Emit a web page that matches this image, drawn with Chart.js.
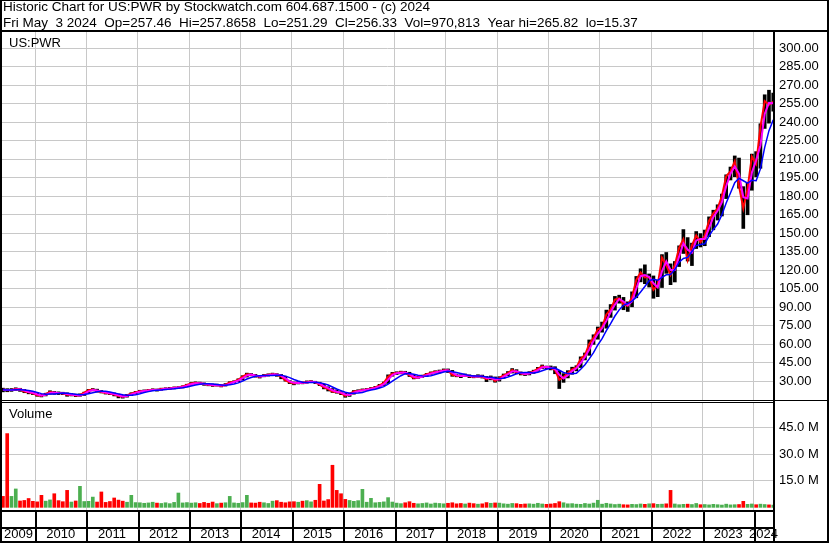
<!DOCTYPE html>
<html>
<head>
<meta charset="UTF-8">
<script src="https://cdn.jsdelivr.net/npm/chart.js@4.4.1/dist/chart.umd.min.js"></script>
<style>
body{margin:0;background:#fff;}
#wrap{position:relative;width:830px;height:543px;}
#price{position:absolute;left:0;top:0;}
#vol{position:absolute;left:0;top:403px;}
</style>
</head>
<body>
<div id="wrap">
<canvas id="price" width="830" height="403"></canvas>
<canvas id="vol" width="830" height="140"></canvas>
</div>

<script>
// monthly bars, May 2009 .. May 2024
var startYear = 2009, startMonth = 5;

var closes = [
	23.0,22.5,22.8,23.5,23.0,21.5,20.8,20.0,
	18.5,18.0,19.5,21.0,20.5,20.2,20.0,18.8,19.0,18.2,18.5,20.5,
	22.5,23.0,21.8,21.0,20.2,19.8,19.0,17.8,17.2,18.5,19.8,20.9,
	21.8,22.0,22.5,23.0,22.8,23.5,23.8,24.0,24.5,24.8,25.5,26.8,
	28.0,28.5,28.0,27.5,27.0,26.5,26.8,26.0,27.0,28.8,29.5,31.0,
	33.5,35.5,35.0,34.0,33.5,34.5,35.0,35.5,35.0,33.8,30.5,29.0,
	28.0,28.8,28.5,29.2,29.5,28.9,27.0,24.8,23.5,21.5,21.0,20.2,
	18.0,19.5,21.5,22.0,22.8,23.2,24.0,24.8,26.5,28.5,33.5,36.0,
	36.5,37.0,36.8,34.5,32.5,33.0,34.0,35.5,36.5,37.5,37.8,38.8,
	38.5,35.0,34.3,34.0,34.8,33.8,33.5,34.0,33.5,31.5,33.0,30.0,
	32.5,34.5,36.5,39.0,37.0,36.0,35.5,36.5,37.8,40.0,42.0,41.0,
	40.5,39.0,31.0,33.0,36.5,39.5,41.0,48.0,51.0,60.0,65.0,72.0,
	73.5,84.0,88.0,96.0,97.0,92.0,91.0,98.0,112.0,118.0,114.0,114.5,
	104.0,108.0,130.0,124.0,116.0,124.0,138.0,145.0,128.0,140.0,148.0,142.5,
	148.0,160.0,166.0,170.0,180.0,196.0,200.0,208.0,188.0,170.0,186.0,212.0,
	206.0,236.0,257.0,254.0,256.3
];
var highs = [
	24.2,23.8,23.9,24.5,24.1,23.2,21.9,21.3,
	20.4,19.2,20.1,22.1,21.6,21.2,20.9,20.4,19.9,19.4,19.6,21.0,
	23.2,23.9,23.4,22.3,21.4,20.6,20.3,19.4,18.5,19.2,20.5,21.6,
	22.5,22.8,23.2,23.7,23.5,24.2,24.5,24.8,25.2,25.4,26.1,27.4,
	28.8,29.3,29.1,28.5,27.9,27.6,27.5,27.1,27.9,29.4,30.2,31.8,
	34.3,36.4,36.1,35.4,34.6,35.3,35.8,36.4,36.0,35.3,33.9,30.3,
	29.2,29.5,29.3,30.1,30.3,29.8,29.0,27.4,25.3,23.9,22.8,21.4,
	20.3,20.2,22.3,22.9,23.6,23.9,24.7,25.6,27.3,29.2,35.0,37.0,
	37.5,38.0,37.9,37.1,34.8,33.9,34.8,36.2,37.4,38.3,38.9,39.8,
	39.8,38.6,35.6,35.1,35.7,35.0,34.6,35.1,34.8,33.7,34.1,33.3,
	33.5,35.7,37.7,40.1,39.2,37.4,36.7,37.6,38.8,41.1,43.0,42.1,
	42.2,41.6,38.5,36.0,38.4,41.2,42.4,49.6,52.7,63.3,67.5,73.8,
	77.8,87.5,92.0,98.6,99.6,97.8,94.2,102.3,114.8,121.0,124.2,116.8,
	115.2,111.8,132.5,134.2,125.0,126.9,139.6,152.8,146.3,141.8,151.2,149.5,
	152.4,163.1,168.5,172.9,181.6,197.2,203.5,212.5,210.8,187.6,191.0,214.0,
	216.0,238.6,262.1,265.8,263.4
];
var lows = [
	21.2,21.3,21.6,22.3,21.6,20.5,19.6,19.0,
	17.6,17.1,17.9,19.3,19.2,19.0,18.9,17.6,17.9,17.3,17.6,18.3,
	20.4,22.0,21.0,20.3,19.4,18.9,17.9,16.3,16.1,16.9,18.2,19.6,
	20.7,21.2,21.7,22.2,21.8,22.5,22.9,23.2,23.6,23.9,24.4,25.3,
	26.6,27.5,27.2,26.5,26.1,25.6,25.9,25.2,25.9,27.0,28.6,29.4,
	30.8,33.2,34.2,33.1,32.4,33.4,34.0,34.5,33.8,31.8,29.9,27.9,
	26.9,27.6,27.7,28.2,28.7,27.9,26.2,23.6,21.9,20.7,20.1,18.9,
	16.8,17.5,19.3,21.2,21.9,22.1,23.1,23.9,24.6,26.3,28.0,33.9,
	35.2,35.8,35.6,33.6,31.7,32.1,32.9,33.6,35.4,36.4,36.5,37.6,
	36.9,33.8,33.4,32.7,33.8,32.7,32.6,33.0,32.4,29.5,30.9,29.0,
	29.9,32.2,34.3,36.5,35.8,34.9,34.4,34.9,36.2,37.9,40.1,39.9,
	39.0,35.9,23.9,28.9,32.5,35.5,38.2,40.9,47.1,50.8,59.7,63.9,
	69.6,72.8,81.6,87.5,93.1,87.8,86.4,90.2,97.5,110.4,108.9,106.2,
	97.1,98.4,105.8,117.3,108.1,110.3,122.8,133.4,127.3,123.6,137.4,138.7,
	139.7,147.0,152.6,160.5,163.8,177.9,193.0,195.7,186.3,153.7,164.8,184.7,
	195.6,202.5,234.8,239.1,248.9
];
// volume, millions of shares
var volumes = [
	6.2,41.7,6.2,10.4,3.6,3.9,5.0,3.4,
	3.1,6.8,3.5,4.2,7.7,3.8,3.2,9.6,3.0,3.6,11.9,3.3,
	3.4,5.8,3.0,8.7,2.8,3.3,5.3,4.1,3.5,2.9,6.8,2.7,
	2.6,2.3,2.5,2.9,2.4,2.2,2.6,2.1,2.8,8.1,2.5,2.7,
	2.4,2.6,2.2,2.8,2.3,3.0,2.1,2.4,2.6,6.2,2.5,2.3,
	2.7,6.8,2.5,2.4,2.9,2.6,2.2,3.5,3.8,2.9,2.6,3.1,
	3.2,2.9,3.5,3.8,3.1,4.0,13.0,3.6,4.4,23.8,9.6,7.7,
	4.5,3.9,3.4,3.8,10.2,2.9,5.1,2.6,2.8,3.1,5.5,3.0,
	2.4,2.1,2.6,3.2,2.3,2.0,2.2,2.5,1.9,2.4,2.2,2.0,
	2.3,2.6,2.0,2.2,1.9,2.4,2.1,1.8,2.0,2.7,2.3,2.5,
	2.4,2.0,1.8,2.2,2.1,1.7,1.9,2.0,1.8,2.3,1.9,1.7,
	1.9,2.2,3.2,2.6,2.0,2.1,1.8,1.7,2.2,1.9,2.4,4.0,
	1.8,2.3,1.9,1.6,1.8,1.5,1.4,1.7,1.6,1.9,1.7,2.0,
	2.1,1.7,1.8,2.0,9.6,1.9,1.5,1.7,1.8,1.6,2.2,1.5,
	1.6,1.4,1.7,1.5,1.3,1.8,1.4,1.5,1.6,3.4,1.7,1.9,
	1.5,1.8,1.6,1.4,1.3
];

var priceTicks = [30,45,60,75,90,105,120,135,150,165,180,195,210,225,240,255,270,285,300];
var volTicks = [15,30,45];
var years = [2009,2010,2011,2012,2013,2014,2015,2016,2017,2018,2019,2020,2021,2022,2023,2024];

var header1 = 'Historic Chart for US:PWR by Stockwatch.com 604.687.1500 - (c) 2024';
var header2 = 'Fri May  3 2024  Op=257.46  Hi=257.8658  Lo=251.29  Cl=256.33  Vol=970,813  Year hi=265.82  lo=15.37';
var symbol = 'US:PWR';
var volTitle = 'Volume';

var xMin = 2009.357, xMax = 2024.37;
var FONT = '"Liberation Sans", Arial, sans-serif';
var GRID = '#c8c8c8';

function monthX(i){
	var m = startMonth - 1 + i;
	return startYear + m/12 + 1/24;
}
function movingAvg(a, n){
	var out = [];
	for (var i = 0; i < a.length; i++){
		var s = 0, c = 0;
		for (var j = Math.max(0, i-n+1); j <= i; j++){ s += a[j]; c++; }
		out.push(s/c);
	}
	return out;
}

var ma1 = movingAvg(closes, 2);
var ma2 = movingAvg(closes, 5);

var barData = [], closeData = [], ma1Data = [], ma2Data = [], volData = [], volColors = [];
for (var i = 0; i < closes.length; i++){
	var x = monthX(i);
	barData.push({x: x, y: [lows[i], highs[i]]});
	closeData.push({x: x, y: closes[i]});
	ma1Data.push({x: x, y: ma1[i]});
	ma2Data.push({x: x, y: ma2[i]});
	volData.push({x: x, y: volumes[i]});
	if (i > 0 && closes[i] > closes[i-1]) volColors.push('#4caf50');
	else if (i > 0 && closes[i] == closes[i-1]) volColors.push('#a0a0a0');
	else volColors.push('#ff0000');
}

// no label padding: layout must not move the plot area
function noPad(s){ s.paddingTop = 0; s.paddingBottom = 0; s.paddingLeft = 0; s.paddingRight = 0; }

function yearGridX(){
	return {
		type: 'linear', min: xMin, max: xMax, offset: false,
		afterBuildTicks: function(s){ s.ticks = years.slice(1).map(function(v){ return {value: v}; }); },
		ticks: {display: false},
		grid: {color: GRID, drawTicks: false, offset: false},
		border: {display: false},
		afterFit: function(s){ s.height = 0; noPad(s); }
	};
}

const priceFrame = {
	id: 'priceFrame',
	afterDraw(chart){
		var c = chart.ctx;
		c.save();
		c.fillStyle = '#000';
		c.fillRect(0, 0, 829, 1);
		c.fillRect(0, 0, 2, 403);
		c.fillRect(827, 0, 2, 403);
		c.fillRect(0, 30, 829, 2);
		c.fillRect(773, 32, 2, 371);
		c.fillRect(0, 400, 829, 1);
		c.fillRect(0, 402, 775, 1);
		c.textAlign = 'left';
		c.textBaseline = 'alphabetic';
		c.font = '13.5px ' + FONT;
		c.fillText(header1, 3, 11);
		c.fillText(header2, 3, 27);
		c.font = '13px ' + FONT;
		c.fillText(symbol, 9, 47);
		c.restore();
	}
};

new Chart(document.getElementById('price'), {
	type: 'bar',
	data: {
		datasets: [
			{type: 'line', data: ma2Data, borderColor: '#0000ff', borderWidth: 1.5, pointRadius: 0, order: 0},
			{type: 'line', data: ma1Data, borderColor: '#ff00ff', borderWidth: 2, pointRadius: 0, order: 1},
			{type: 'line', data: closeData, borderColor: '#ff0000', borderWidth: 2, pointRadius: 0, order: 2},
			{type: 'bar', data: barData, backgroundColor: '#000', barThickness: 3, order: 3}
		]
	},
	options: {
		responsive: false,
		animation: false,
		events: [],
		layout: {padding: {left: 2, right: 2, top: 32, bottom: 3}},
		plugins: {legend: {display: false}, tooltip: {enabled: false}},
		scales: {
			x: yearGridX(),
			y: {
				position: 'right', min: 14.6, max: 313,
				afterBuildTicks: function(s){ s.ticks = priceTicks.map(function(v){ return {value: v}; }); },
				ticks: {color: '#000', font: {family: FONT, size: 13}, padding: 6, autoSkip: false,
					callback: function(v){ return v.toFixed(2); }},
				grid: {color: GRID, drawTicks: false},
				border: {display: false},
				afterFit: function(s){ s.width = 55; noPad(s); }
			}
		}
	},
	plugins: [priceFrame]
});

const volFrame = {
	id: 'volFrame',
	beforeDraw(chart){
		var c = chart.ctx;
		c.save();
		c.fillStyle = '#000';
		c.fillRect(0, 107, 775, 2);
		c.fillRect(0, 124, 775, 2);
		for (var k = 1; k < years.length; k++){
			var px = chart.scales.x.getPixelForValue(years[k]);
			c.fillRect(Math.round(px), 107, 2, 33);
		}
		c.restore();
	},
	afterDraw(chart){
		var c = chart.ctx;
		c.save();
		c.fillStyle = '#000';
		c.fillRect(0, 0, 2, 140);
		c.fillRect(827, 0, 2, 140);
		c.fillRect(773, 0, 2, 140);
		c.fillRect(0, 138, 829, 2);
		c.font = '13px ' + FONT;
		c.textAlign = 'left';
		c.textBaseline = 'alphabetic';
		c.fillText(volTitle, 9, 15);
		c.restore();
	}
};

new Chart(document.getElementById('vol'), {
	type: 'bar',
	data: {
		datasets: [
			{data: volData, backgroundColor: volColors, barThickness: 3}
		]
	},
	options: {
		responsive: false,
		animation: false,
		events: [],
		layout: {padding: {left: 2, right: 2, top: 0, bottom: 0}},
		plugins: {legend: {display: false}, tooltip: {enabled: false}},
		scales: {
			x: yearGridX(),
			xl: {
				type: 'linear', position: 'bottom', weight: 1, min: xMin, max: xMax, offset: false,
				afterBuildTicks: function(s){
					s.ticks = years.map(function(y){
						var a = Math.max(y, xMin), b = Math.min(y+1, xMax);
						return {value: (a+b)/2};
					});
				},
				ticks: {color: '#000', font: {family: FONT, size: 13}, padding: 17, autoSkip: false, maxRotation: 0,
					callback: function(v){ return String(Math.floor(v)); }},
				grid: {display: false, drawTicks: false},
				border: {display: false},
				afterFit: function(s){ s.height = 33; noPad(s); }
			},
			y: {
				position: 'right', min: -1.5, max: 59,
				afterBuildTicks: function(s){ s.ticks = volTicks.map(function(v){ return {value: v}; }); },
				ticks: {color: '#000', font: {family: FONT, size: 13}, padding: 6, autoSkip: false,
					callback: function(v){ return v.toFixed(1) + ' M'; }},
				grid: {color: GRID, drawTicks: false},
				border: {display: false},
				afterFit: function(s){ s.width = 55; noPad(s); }
			}
		}
	},
	plugins: [volFrame]
});
</script>
</body>
</html>
